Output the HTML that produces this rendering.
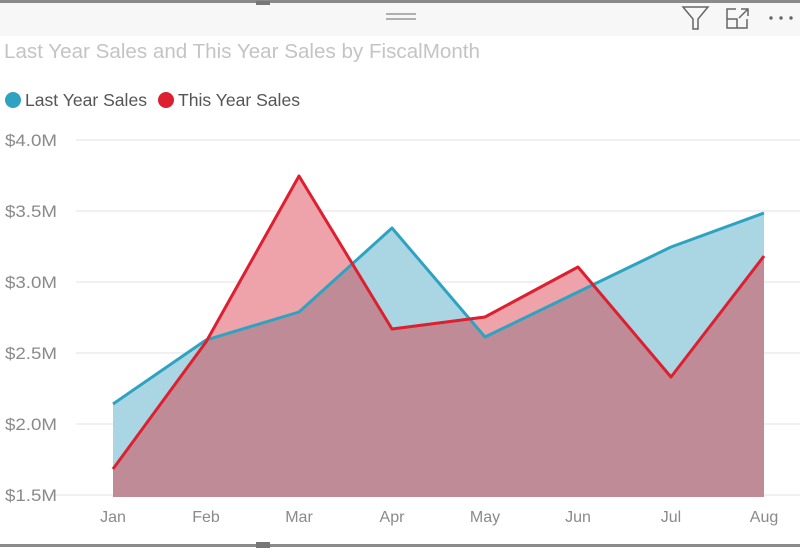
<!DOCTYPE html>
<html><head><style>
html,body{margin:0;padding:0;background:#fff;}
svg{display:block;font-family:"Liberation Sans",sans-serif;}
</style></head><body>
<svg width="800" height="549" viewBox="0 0 800 549" xmlns="http://www.w3.org/2000/svg">
<defs>
<clipPath id="blueClip"><polygon points="113,404 206,340 299,312 392,228 485,337 578,292 671,247 764,213 764,497 113,497"/></clipPath>
</defs>
<rect x="0" y="0" width="800" height="36" fill="#f7f7f7"/>
<rect x="0" y="0" width="800" height="3" fill="#8a8a8a"/>
<rect x="0" y="544" width="800" height="3" fill="#8a8a8a"/>
<rect x="256" y="1" width="14" height="4" fill="#777"/>
<rect x="256" y="542" width="14" height="6" fill="#777"/>
<line x1="386" y1="14" x2="416" y2="14" stroke="#999" stroke-width="1.5"/>
<line x1="386" y1="19" x2="416" y2="19" stroke="#999" stroke-width="1.5"/>
<path d="M683,7 L708,7 L698,19 L698,29 L693,29 L693,19 Z" fill="none" stroke="#666" stroke-width="1.5"/>
<path d="M736,9 L727,9 L727,28 L747,28 L747,19 M727,19 L737,19 L737,28 M741,9 L748,9 L748,16 M748,9 L739,18" fill="none" stroke="#666" stroke-width="1.5"/>
<circle cx="771" cy="18" r="1.7" fill="#666"/><circle cx="781" cy="18" r="1.7" fill="#666"/><circle cx="791" cy="18" r="1.7" fill="#666"/>
<text x="4" y="58" font-size="20.5" fill="#c4c4c4" textLength="476" lengthAdjust="spacingAndGlyphs">Last Year Sales and This Year Sales by FiscalMonth</text>
<circle cx="13" cy="100" r="8" fill="#2ea3c1"/>
<text x="25" y="106" font-size="17.5" fill="#555" textLength="122" lengthAdjust="spacingAndGlyphs">Last Year Sales</text>
<circle cx="166" cy="100" r="8" fill="#dd1f2f"/>
<text x="178" y="106" font-size="17.5" fill="#555" textLength="122" lengthAdjust="spacingAndGlyphs">This Year Sales</text>
<g stroke="#ebebeb" stroke-width="1.5">
<line x1="76" y1="140" x2="800" y2="140"/><line x1="76" y1="211" x2="800" y2="211"/>
<line x1="76" y1="282" x2="800" y2="282"/><line x1="76" y1="353" x2="800" y2="353"/>
<line x1="76" y1="424" x2="800" y2="424"/><line x1="50" y1="495" x2="800" y2="495"/>
</g>
<g font-size="17" fill="#8a8a8a">
<text x="5" y="146" textLength="52" lengthAdjust="spacingAndGlyphs">$4.0M</text><text x="5" y="217" textLength="52" lengthAdjust="spacingAndGlyphs">$3.5M</text>
<text x="5" y="288" textLength="52" lengthAdjust="spacingAndGlyphs">$3.0M</text><text x="5" y="359" textLength="52" lengthAdjust="spacingAndGlyphs">$2.5M</text>
<text x="5" y="430" textLength="52" lengthAdjust="spacingAndGlyphs">$2.0M</text><text x="5" y="501" textLength="52" lengthAdjust="spacingAndGlyphs">$1.5M</text>
</g>
<polygon points="113,404 206,340 299,312 392,228 485,337 578,292 671,247 764,213 764,497 113,497" fill="#a9d6e2"/>
<polygon points="113,469 206,342 299,176 392,329 485,317 578,267 671,377 764,256 764,497 113,497" fill="#eea3ab"/>
<polygon clip-path="url(#blueClip)" points="113,469 206,342 299,176 392,329 485,317 578,267 671,377 764,256 764,497 113,497" fill="#be8b96"/>
<polyline points="113,404 206,340 299,312 392,228 485,337 578,292 671,247 764,213" fill="none" stroke="#2ea3c1" stroke-width="3" stroke-linejoin="round"/>
<polyline points="113,469 206,342 299,176 392,329 485,317 578,267 671,377 764,256" fill="none" stroke="#dd1f2f" stroke-width="3" stroke-linejoin="round"/>
<g font-size="16" fill="#8a8a8a" text-anchor="middle">
<text x="113" y="522">Jan</text><text x="206" y="522">Feb</text><text x="299" y="522">Mar</text>
<text x="392" y="522">Apr</text><text x="485" y="522">May</text><text x="578" y="522">Jun</text>
<text x="671" y="522">Jul</text><text x="764" y="522">Aug</text>
</g>
</svg>
</body></html>
